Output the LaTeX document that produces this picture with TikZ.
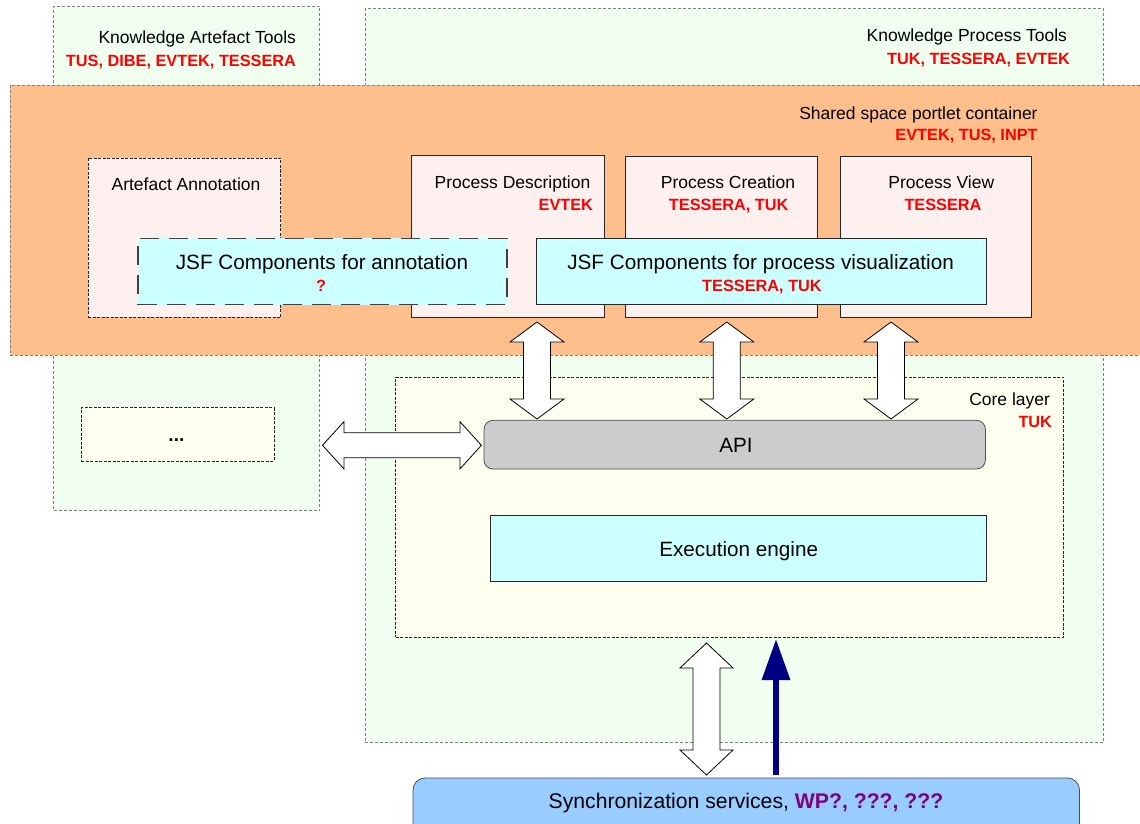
\documentclass[tikz,border=0pt]{standalone}
\usepackage{fontspec}
\setmainfont{Liberation Sans}
\usetikzlibrary{calc,arrows.meta}
\definecolor{kgreen}{HTML}{F0FFF0}
\definecolor{korange}{HTML}{FFBF8C}
\definecolor{kpink}{HTML}{FFF0F0}
\definecolor{kcyan}{HTML}{CCFFFF}
\definecolor{kivory}{HTML}{FFFFF0}
\definecolor{kgray}{HTML}{CCCCCC}
\definecolor{ksync}{HTML}{99CCFF}
\definecolor{kred}{HTML}{FF0000}
\definecolor{kpurple}{HTML}{800080}
\definecolor{knavy}{HTML}{000080}
\newcommand\lblfont{\fontsize{17.5}{20}\selectfont}
\newcommand\redfont{\fontsize{16.3}{19}\selectfont\bfseries\color{kred}}
\newcommand\bigfont{\fontsize{20.7}{24}\selectfont}
\newcommand\syncfont{\fontsize{21.2}{24}\selectfont}
\newcommand\vdblarrow[5]{%
  \draw[blockarrow] (#1) -- ($(#1)+(#4,#5)$) -- ($(#1)+(#3,#5)$) -- ($(#2)+(#3,-#5)$) -- ($(#2)+(#4,-#5)$) -- (#2) -- ($(#2)+(-#4,-#5)$) -- ($(#2)+(-#3,-#5)$) -- ($(#1)+(-#3,#5)$) -- ($(#1)+(-#4,#5)$) -- cycle;}
\newcommand\hdblarrow[5]{%
  \draw[blockarrow] (#1) -- ($(#1)+(#5,-#4)$) -- ($(#1)+(#5,-#3)$) -- ($(#2)+(-#5,-#3)$) -- ($(#2)+(-#5,-#4)$) -- (#2) -- ($(#2)+(-#5,#4)$) -- ($(#2)+(-#5,#3)$) -- ($(#1)+(#5,#3)$) -- ($(#1)+(#5,#4)$) -- cycle;}
\begin{document}
\begin{tikzpicture}[x=1pt,y=-1pt,
  box/.style={anchor=north west, inner sep=0pt, outer sep=0pt},
  toolbox/.style={box, draw=black!50, dash pattern=on 3pt off 2pt, line width=0.8pt, fill=kgreen},
  shared/.style={box, draw=black!50, dash pattern=on 3pt off 2pt, line width=0.8pt, fill=korange},
  finedash/.style={box, draw=black!85, dash pattern=on 3pt off 1.5pt, line width=0.8pt},
  solidbox/.style={box, draw=black!85, line width=0.8pt},
  longdash/.style={box, draw=black!75, dash pattern=on 19pt off 10pt, line width=1.2pt},
  blockarrow/.style={draw=black, fill=white, line width=0.8pt, line join=miter},
  txt/.style={inner sep=0pt, outer sep=0pt},
]
\useasboundingbox (0,0) rectangle (1140,824);
\fill[white] (0,0) rectangle (1140,824);

% tool areas
\node[toolbox, minimum width=266pt, minimum height=504pt] (kat) at (53.5,6.5) {};
\node[toolbox, minimum width=738pt, minimum height=734.5pt] (kpt) at (365,8.3) {};
% shared container
\node[shared, minimum width=1150pt, minimum height=270.3pt] (ssc) at (10,85) {};

% portlets
\node[finedash, fill=kpink, minimum width=192.7pt, minimum height=159pt] (aa) at (88,158.3) {};
\node[solidbox, fill=kpink, minimum width=193pt, minimum height=162pt] (pd) at (411,155) {};
\node[solidbox, fill=kpink, minimum width=192.6pt, minimum height=161pt] (pc) at (625,156) {};
\node[solidbox, fill=kpink, minimum width=191pt, minimum height=161pt] (pv) at (840,156) {};
\node[longdash, fill=kcyan, minimum width=369pt, minimum height=66.4pt] (jsfa) at (137.9,238.3) {};
\node[solidbox, fill=kcyan, minimum width=450pt, minimum height=66.4pt] (jsfv) at (536,238.3) {};

% core layer
\node[finedash, fill=kivory, minimum width=668pt, minimum height=260pt] (core) at (395.5,377.3) {};
\node[solidbox, draw=black!70, fill=kgray, rounded corners=9pt, minimum width=501.4pt, minimum height=48.7pt] (api) at (484,420.3) {};
\node[solidbox, fill=kcyan, minimum width=495.5pt, minimum height=66pt] (exe) at (490.5,515.7) {};
\node[finedash, fill=kivory, minimum width=192.6pt, minimum height=53.3pt] (dots) at (81.4,407.7) {};
\node[solidbox, draw=black!70, fill=ksync, rounded corners=12pt, minimum width=666.5pt, minimum height=70pt] (sync) at (413,778) {};

% block arrows
\coordinate (a1t) at (537,322);   \coordinate (a1b) at (537,419);
\coordinate (a2t) at (726.8,322); \coordinate (a2b) at (726.8,419);
\coordinate (a3t) at (891,322);   \coordinate (a3b) at (891,419);
\vdblarrow{a1t}{a1b}{13.5}{27}{20}
\vdblarrow{a2t}{a2b}{13.5}{27}{20}
\vdblarrow{a3t}{a3b}{13.5}{27}{20}
\coordinate (hl) at (322.5,445.3); \coordinate (hr) at (481.4,445.3);
\hdblarrow{hl}{hr}{12.5}{23.7}{21.5}
\coordinate (st) at (706.5,643); \coordinate (sb) at (706.5,775);
\vdblarrow{st}{sb}{13.5}{26.5}{25}
\coordinate (nvs) at (776,775); \coordinate (nve) at (776,639);
\draw[knavy, line width=6.3pt, -{Triangle[width=27pt,length=41pt]}] (nvs) -- (nve);

% texts
\node[txt, anchor=base east] at (296,44) {\lblfont Knowledge Artefact Tools};
\node[txt, anchor=base east] at (296,66.7) {\redfont TUS, DIBE, EVTEK, TESSERA};
\node[txt, anchor=base east] at (1067,41.7) {\lblfont Knowledge Process Tools};
\node[txt, anchor=base east] at (1070,65) {\redfont TUK, TESSERA, EVTEK};
\node[txt, anchor=base east] at (1037.6,120) {\lblfont Shared space portlet container};
\node[txt, anchor=base east] at (1037.6,140) {\redfont EVTEK, TUS, INPT};
\node[txt, anchor=base] at (186,190) {\lblfont Artefact Annotation};
\node[txt, anchor=base] at (512.5,188) {\lblfont Process Description};
\node[txt, anchor=base east] at (593,210) {\redfont EVTEK};
\node[txt, anchor=base] at (728,188) {\lblfont Process Creation};
\node[txt, anchor=base] at (728.7,210) {\redfont TESSERA, TUK};
\node[txt, anchor=base] at (941.3,188) {\lblfont Process View};
\node[txt, anchor=base] at (943,210) {\redfont TESSERA};
\node[txt, anchor=base] at (322,269.3) {\bigfont JSF Components for annotation};
\node[txt, anchor=base] at (321,291.7) {\redfont ?};
\node[txt, anchor=base] at (760.6,269.3) {\bigfont JSF Components for process visualization};
\node[txt, anchor=base] at (762,291.7) {\redfont TESSERA, TUK};
\node[txt, anchor=base east] at (1050,405) {\lblfont Core layer};
\node[txt, anchor=base east] at (1052,427.3) {\redfont TUK};
\node[txt, anchor=base] at (736,452.7) {\bigfont API};
\node[txt, anchor=base] at (738.7,556) {\bigfont Execution engine};
\node[txt, anchor=base] at (176.4,441.7) {\fontsize{19}{22}\selectfont\bfseries ...};
\node[txt, anchor=base] at (746,808.3) {\syncfont Synchronization services, {\bfseries\color{kpurple}WP?, ???, ???}};
\end{tikzpicture}
\end{document}
